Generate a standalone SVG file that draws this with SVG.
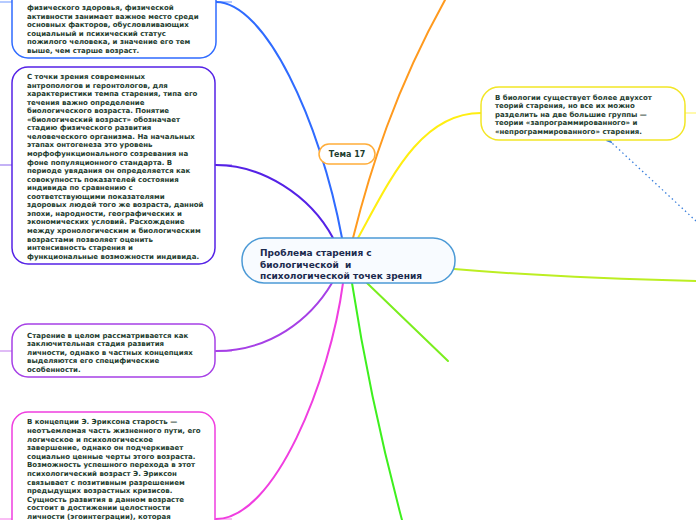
<svg xmlns="http://www.w3.org/2000/svg" width="696" height="520" viewBox="0 0 696 520">
<defs>
<style>
.txt{font-family:"DejaVu Sans","Verdana",sans-serif;font-weight:bold;font-size:7px;fill:#1e3d2f}
.ctxt{font-family:"DejaVu Sans","Verdana",sans-serif;font-weight:bold;font-size:9px;fill:#1b2a4e}
.box{fill:#ffffff;stroke-width:1.5}
.br{fill:none;stroke-width:2;stroke-linecap:round}
.stub{fill:none;stroke-width:2;opacity:0.35}
</style>
<marker id="arr" viewBox="0 0 10 10" refX="1" refY="5" markerWidth="5" markerHeight="5" orient="auto">
<path d="M10,1 L0,5 L10,9 z" fill="#3a7fdc"/>
</marker>
</defs>
<rect width="696" height="520" fill="#ffffff"/>
<g id="connectors">
<path class="br" stroke="#2f6bff" d="M216,2 C265,2 320,120 342,238"/>
<path class="br" stroke="#5522e6" d="M216,165 C262,165 310,195 333,238"/>
<path class="br" stroke="#a640e6" d="M216,351 C270,351 310,320 332,283"/>
<path class="br" stroke="#f03ee0" d="M216,519 C275,519 330,380 343,283"/>
<path class="br" stroke="#3ef01e" d="M352,283 Q370,400 402,520"/>
<path class="br" stroke="#7aee1e" d="M367,283 L448,361"/>
<path class="br" stroke="#bcee22" d="M454,269 Q560,278 696,281"/>
<path class="br" stroke="#ffee11" d="M358,238 C390,180 420,113 481,113"/>
<path class="br" stroke="#ff9a1e" d="M353,238 C370,170 395,90 445,0"/>
<path class="stub" stroke="#2f6bff" d="M0,2 H12 M216,2 H232"/>
<path class="stub" stroke="#5522e6" d="M0,165 H12 M216,165 H232"/>
<path class="stub" stroke="#a640e6" d="M0,351 H12 M216,351 H232"/>
<path class="stub" stroke="#f03ee0" d="M0,519 H12 M216,519 H232"/>
<path class="stub" stroke="#ffee11" d="M685,113 H696"/>
<path fill="none" stroke="#3a7fdc" stroke-width="1.3" stroke-dasharray="1.5,3" d="M696,221 L612,143" marker-end="url(#arr)"/>
</g>
<g id="node-top">
<rect class="box" stroke="#2f6bff" x="12" y="-40" width="204" height="98" rx="16"/>
<text class="txt" x="27" y="10">физического здоровья, физической</text>
<text class="txt" x="27" y="18.6">активности занимает важное место среди</text>
<text class="txt" x="27" y="27.2">основных факторов, обусловливающих</text>
<text class="txt" x="27" y="35.8">социальный и психический статус</text>
<text class="txt" x="27" y="44.4">пожилого человека, и значение его тем</text>
<text class="txt" x="27" y="53">выше, чем старше возраст.</text>
</g>
<g id="node-bio-age">
<rect class="box" stroke="#5522e6" x="12" y="67" width="203" height="197" rx="16"/>
<text class="txt" x="27" y="79">С точки зрения современных</text>
<text class="txt" x="27" y="87.6">антропологов и геронтологов, для</text>
<text class="txt" x="27" y="96.1">характеристики темпа старения, типа его</text>
<text class="txt" x="27" y="104.7">течения важно определение</text>
<text class="txt" x="27" y="113.2">биологического возраста. Понятие</text>
<text class="txt" x="27" y="121.8">«биологический возраст» обозначает</text>
<text class="txt" x="27" y="130.3">стадию физического развития</text>
<text class="txt" x="27" y="138.9">человеческого организма. На начальных</text>
<text class="txt" x="27" y="147.4">этапах онтогенеза это уровень</text>
<text class="txt" x="27" y="156">морфофункционального созревания на</text>
<text class="txt" x="27" y="164.5">фоне популяционного стандарта. В</text>
<text class="txt" x="27" y="173.1">периоде увядания он определяется как</text>
<text class="txt" x="27" y="181.6">совокупность показателей состояния</text>
<text class="txt" x="27" y="190.2">индивида по сравнению с</text>
<text class="txt" x="27" y="198.7">соответствующими показателями</text>
<text class="txt" x="27" y="207.3">здоровых людей того же возраста, данной</text>
<text class="txt" x="27" y="215.8">эпохи, народности, географических и</text>
<text class="txt" x="27" y="224.4">экономических условий. Расхождение</text>
<text class="txt" x="27" y="232.9">между хронологическим и биологическим</text>
<text class="txt" x="27" y="241.5">возрастами позволяет оценить</text>
<text class="txt" x="27" y="250">интенсивность старения и</text>
<text class="txt" x="27" y="258.6">функциональные возможности индивида.</text>
</g>
<g id="node-final-stage">
<rect class="box" stroke="#a640e6" x="12" y="324" width="203" height="53" rx="16"/>
<text class="txt" x="27" y="337.5">Старение в целом рассматривается как</text>
<text class="txt" x="27" y="346">заключительная стадия развития</text>
<text class="txt" x="27" y="354.5">личности, однако в частных концепциях</text>
<text class="txt" x="27" y="363">выделяются его специфические</text>
<text class="txt" x="27" y="371.5">особенности.</text>
</g>
<g id="node-erikson">
<rect class="box" stroke="#f03ee0" x="12" y="412" width="203" height="140" rx="16"/>
<text class="txt" x="27" y="424.3">В концепции Э. Эриксона старость —</text>
<text class="txt" x="27" y="432.9">неотъемлемая часть жизненного пути, его</text>
<text class="txt" x="27" y="441.5">логическое и психологическое</text>
<text class="txt" x="27" y="450.1">завершение, однако он подчеркивает</text>
<text class="txt" x="27" y="458.7">социально ценные черты этого возраста.</text>
<text class="txt" x="27" y="467.3">Возможность успешного перехода в этот</text>
<text class="txt" x="27" y="475.9">психологический возраст Э. Эриксон</text>
<text class="txt" x="27" y="484.5">связывает с позитивным разрешением</text>
<text class="txt" x="27" y="493.1">предыдущих возрастных кризисов.</text>
<text class="txt" x="27" y="501.7">Сущность развития в данном возрасте</text>
<text class="txt" x="27" y="510.3">состоит в достижении целостности</text>
<text class="txt" x="27" y="518.9">личности (эгоинтеграции), которая</text>
</g>
<g id="node-theories">
<rect class="box" stroke="#f2e626" x="481" y="87" width="204" height="53" rx="18"/>
<text class="txt" x="495" y="99.5">В биологии существует более двухсот</text>
<text class="txt" x="495" y="108">теорий старения, но все их можно</text>
<text class="txt" x="495" y="116.5">разделить на две большие группы —</text>
<text class="txt" x="495" y="125">теории «запрограммированного» и</text>
<text class="txt" x="495" y="133.5">«непрограммированного» старения.</text>
</g>
<g id="node-tema">
<rect class="box" stroke="#ffad3a" x="319" y="144" width="56" height="20" rx="10"/>
<text class="txt" x="347" y="157" text-anchor="middle" style="font-size:8px">Тема 17</text>
</g>
<g id="node-center">
<rect fill="#f8fbff" stroke="#4c9ad6" stroke-width="1.5" x="242" y="238" width="213" height="45" rx="22"/>
<text class="ctxt" x="260" y="256">Проблема старения с</text>
<text class="ctxt" x="260" y="267.5" style="white-space:pre">биологической  и</text>
<text class="ctxt" x="260" y="279">психологической точек зрения</text>
</g>
</svg>
